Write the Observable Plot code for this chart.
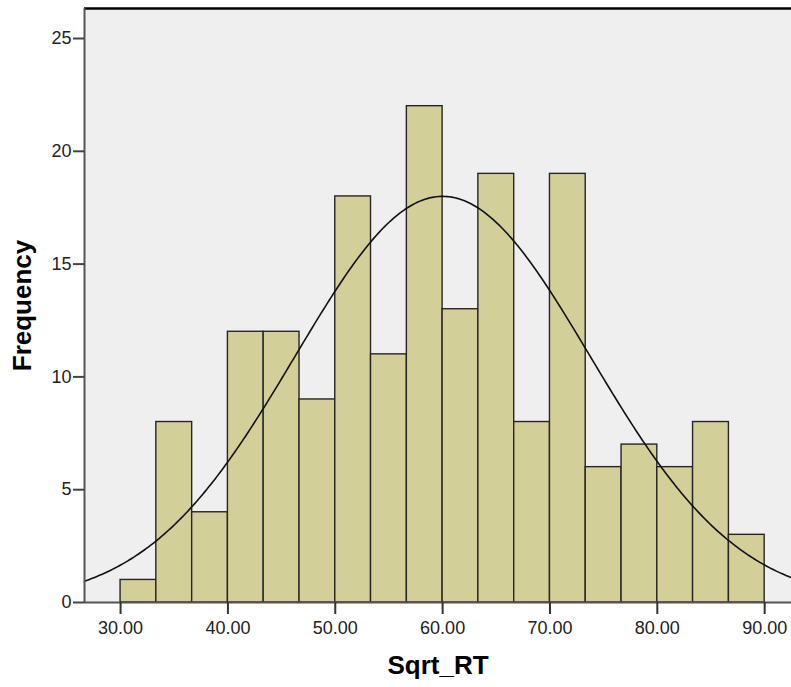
<!DOCTYPE html>
<html>
<head>
<meta charset="utf-8">
<script src="https://cdn.jsdelivr.net/npm/d3@7"></script>
<script src="https://cdn.jsdelivr.net/npm/@observablehq/plot@0.6"></script>
<style>
  html, body { margin: 0; padding: 0; background: #ffffff; }
  #chart svg { display: block; }
</style>
</head>
<body>
<div id="chart"></div>
<script>
// Histogram of Sqrt_RT (bins of width 10/3 starting at 30)
const binLower = [30.00, 33.33, 36.67, 40.00, 43.33, 46.67, 50.00, 53.33, 56.67,
                  60.00, 63.33, 66.67, 70.00, 73.33, 76.67, 80.00, 83.33, 86.67];
const binUpper = [33.33, 36.67, 40.00, 43.33, 46.67, 50.00, 53.33, 56.67, 60.00,
                  63.33, 66.67, 70.00, 73.33, 76.67, 80.00, 83.33, 86.67, 90.00];
const counts   = [1, 8, 4, 12, 12, 9, 18, 11, 22, 13, 19, 8, 19, 6, 7, 6, 8, 3];

// Fitted normal curve parameters (as shown by the curve)
const mean = 60.0;
const stdDev = 13.74;
const N = 186;
const binWidth = 10 / 3;

const xTicks = [30, 40, 50, 60, 70, 80, 90];
const yTicks = [0, 5, 10, 15, 20, 25];
const xDomain = [26.64, 92.5];
const yDomain = [0, 26.33];

const bars = binLower.map((lo, i) => ({x1: lo, x2: binUpper[i], count: counts[i]}));
const curve = d3.range(xDomain[0], xDomain[1] + 0.001, 0.2).map(x => ({
  x,
  y: N * binWidth / (stdDev * Math.sqrt(2 * Math.PI)) * Math.exp(-((x - mean) ** 2) / (2 * stdDev ** 2))
}));

const font = "Arial, 'Liberation Sans', sans-serif";

const chart = Plot.plot({
  width: 791,
  height: 687,
  marginLeft: 84,
  marginRight: 0,
  marginTop: 8,
  marginBottom: 85,
  style: {fontFamily: font, background: "#ffffff"},
  x: {domain: xDomain},
  y: {domain: yDomain},
  marks: [
    Plot.frame({fill: "#efefef", stroke: null}),
    Plot.rectY(bars, {x1: "x1", x2: "x2", y: "count", fill: "#d3cf98", stroke: "#262626", strokeWidth: 1.4, inset: 0}),
    Plot.line(curve, {x: "x", y: "y", stroke: "#111111", strokeWidth: 1.6}),
    Plot.ruleY([yDomain[1]], {stroke: "#000000", strokeWidth: 2.5}),
    Plot.ruleX([xDomain[0]], {stroke: "#555555", strokeWidth: 2}),
    Plot.ruleY([0], {stroke: "#555555", strokeWidth: 2}),
    Plot.axisY({ticks: yTicks, tickSize: 11, tickPadding: 2, fontSize: 18, stroke: "#444", strokeWidth: 2, label: null, color: "#222", tickFormat: d => String(d)}),
    Plot.axisX({ticks: xTicks, tickSize: 12, tickPadding: 7, fontSize: 18, stroke: "#333", strokeWidth: 2, label: null, color: "#222", tickFormat: d => d.toFixed(2)}),
    Plot.text(["Sqrt_RT"], {frameAnchor: "bottom", lineAnchor: "middle", textAnchor: "middle", dy: 63, text: d => d, fontSize: 26, fontWeight: "bold", fill: "#000"}),
    Plot.text(["Frequency"], {frameAnchor: "left", lineAnchor: "middle", textAnchor: "middle", dx: -62, rotate: -90, text: d => d, fontSize: 26, fontWeight: "bold", fill: "#000"})
  ]
});

document.getElementById("chart").appendChild(chart);
</script>
</body>
</html>
